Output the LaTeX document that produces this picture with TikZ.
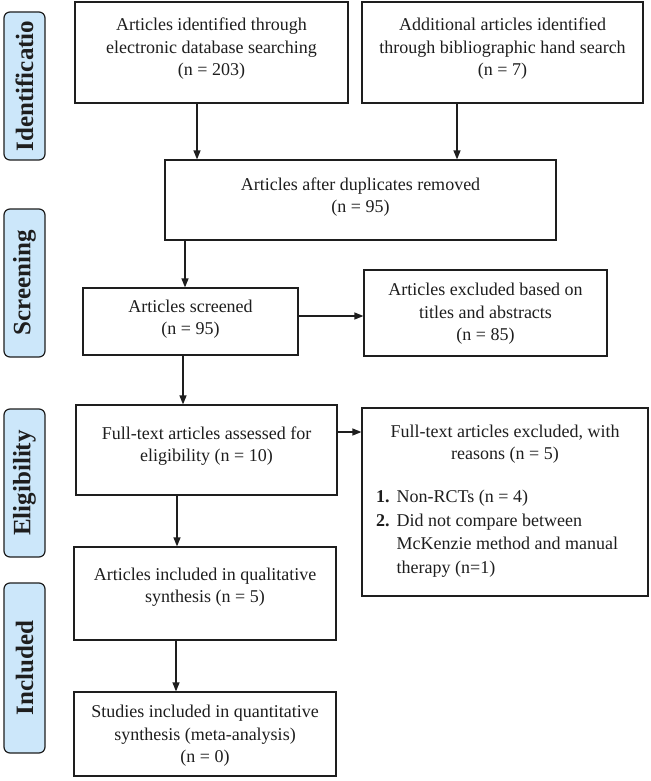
\documentclass[tikz,border=0pt]{standalone}
\usepackage{fontspec}
\setmainfont{Liberation Serif}
\usetikzlibrary{arrows.meta}
\definecolor{sidefill}{RGB}{204,231,250}
\definecolor{ink}{RGB}{30,30,30}
\begin{document}
\begin{tikzpicture}[x=1pt,y=-1pt,
  box/.style={draw=ink, line width=1.2pt, rectangle, inner sep=0pt},
  txt/.style={font=\fontsize{18}{22.5}\selectfont, align=center, inner sep=0pt, text=ink},
  side/.style={draw=ink, line width=1.2pt, fill=sidefill, rounded corners=6pt, rotate=90,
    inner sep=0pt, minimum height=41pt, font=\fontsize{25}{26}\selectfont\bfseries, text=ink},
  arr/.style={draw=ink, line width=1.2pt, -{Triangle[length=9pt,width=7pt]}}]
\useasboundingbox (0,0) rectangle (650,781);
\fill[white] (0,0) rectangle (650,781);

% sidebars
\node[side, minimum width=148pt] (sid) at (24.5,86) {Identificatio};
\node[side, minimum width=148pt] (sscr) at (24.5,283) {Screening};
\node[side, minimum width=148pt] (selig) at (24.5,483) {Eligibility};
\node[side, minimum width=170pt] (sinc) at (24.5,668) {Included};

% boxes
\node[box, minimum width=273pt, minimum height=101pt] (b1) at (211.5,52.5) {};
\node[txt] (t1) at (211.5,49) {Articles identified through\\electronic database searching\\(n = 203)};

\node[box, minimum width=281pt, minimum height=101pt] (b2) at (502.5,52.5) {};
\node[txt] (t2) at (502.5,49) {Additional articles identified\\through bibliographic hand search\\(n = 7)};

\node[box, minimum width=391pt, minimum height=80pt] (b3) at (360.5,200) {};
\node[txt] (t3) at (360.5,197) {Articles after duplicates removed\\(n = 95)};

\node[box, minimum width=215pt, minimum height=67pt] (b4) at (190.5,321.5) {};
\node[txt] (t4) at (190.5,319) {Articles screened\\(n = 95)};

\node[box, minimum width=243pt, minimum height=86pt] (b5) at (485.5,313) {};
\node[txt] (t5) at (485.5,314) {Articles excluded based on\\titles and abstracts\\(n = 85)};

\node[box, minimum width=261pt, minimum height=90pt] (b6) at (206.5,450) {};
\node[txt] (t6) at (206.5,446) {Full-text articles assessed for\\eligibility (n = 10)};

\node[box, minimum width=286pt, minimum height=188pt] (b7) at (505,502) {};
\node[txt] (t7) at (505,444) {Full-text articles excluded, with\\reasons (n = 5)};
\node[txt, anchor=north west, align=left] (t7l) at (376,486) {%
  \fontsize{18}{23.5}\selectfont
  \begin{tabular}{@{}l@{\hspace{7pt}}l@{}}
  \textbf{1.} & Non-RCTs (n = 4)\\
  \textbf{2.} & Did not compare between\\
   & McKenzie method and manual\\
   & therapy (n=1)
  \end{tabular}};

\node[box, minimum width=262pt, minimum height=93pt] (b8) at (205,593.5) {};
\node[txt] (t8) at (205,587) {Articles included in qualitative\\synthesis (n = 5)};

\node[box, minimum width=262pt, minimum height=84pt] (b9) at (205,734) {};
\node[txt] (t9) at (205,736) {Studies included in quantitative\\synthesis (meta-analysis)\\(n = 0)};

% arrows
\draw[arr] ([xshift=-14.5pt]b1.south) -- ([xshift=-14.5pt]b1.south |- b3.north);
\draw[arr] ([xshift=-45.5pt]b2.south) -- ([xshift=-45.5pt]b2.south |- b3.north);
\draw[arr] ([xshift=-5.5pt]b4.north |- b3.south) -- ([xshift=-5.5pt]b4.north);
\draw[arr] ([yshift=5.5pt]b4.east) -- ([yshift=5.5pt]b4.east -| b5.west);
\draw[arr] ([xshift=-7.5pt]b4.south) -- ([xshift=-7.5pt]b4.south |- b6.north);
\draw[arr] ([yshift=18pt]b6.east) -- ([yshift=18pt]b6.east -| b7.west);
\draw[arr] ([xshift=-29.5pt]b6.south) -- ([xshift=-29.5pt]b6.south |- b8.north);
\draw[arr] ([xshift=-29pt]b8.south) -- ([xshift=-29pt]b8.south |- b9.north);
\end{tikzpicture}
\end{document}
